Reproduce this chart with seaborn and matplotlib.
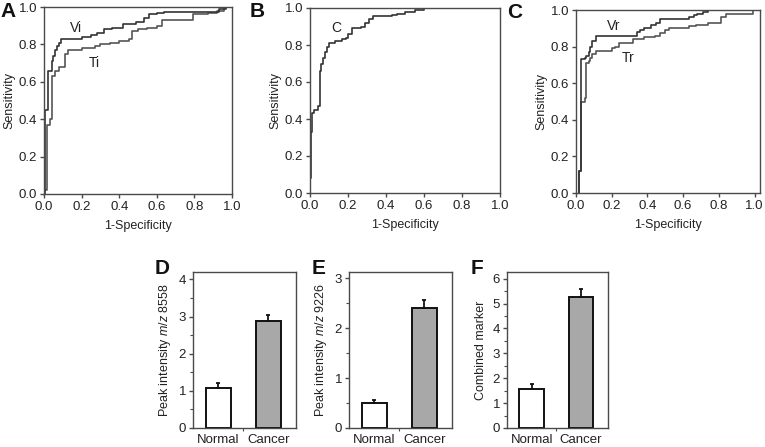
import matplotlib
matplotlib.use("Agg")
import matplotlib.pyplot as plt
from matplotlib.ticker import MultipleLocator, FormatStrFormatter, AutoMinorLocator
import numpy as np
import pandas as pd
import seaborn as sns

# ---------------- data ----------------
# Panel A ROC curves (1-specificity, sensitivity) step corners
vi_fpr = [0.005, 0.005, 0.02, 0.04, 0.05, 0.06, 0.07, 0.08, 0.09, 0.2, 0.25, 0.28, 0.32, 0.36,
          0.42, 0.49, 0.53, 0.56, 0.6, 0.64, 0.93, 0.97, 1.0]
vi_tpr = [0.0, 0.45, 0.66, 0.71, 0.74, 0.77, 0.79, 0.81, 0.83, 0.84, 0.85, 0.86, 0.88, 0.89,
          0.91, 0.92, 0.94, 0.96, 0.97, 0.975, 0.99, 1.0, 1.0]
ti_fpr = [0.005, 0.015, 0.03, 0.04, 0.06, 0.08, 0.11, 0.13, 0.2, 0.27, 0.3, 0.35, 0.4, 0.45,
          0.47, 0.5, 0.55, 0.6, 0.63, 0.79, 0.87, 0.92, 0.96, 1.0]
ti_tpr = [0.02, 0.37, 0.40, 0.63, 0.66, 0.68, 0.75, 0.77, 0.78, 0.79, 0.80, 0.81, 0.82, 0.83,
          0.87, 0.88, 0.89, 0.90, 0.93, 0.96, 0.97, 0.98, 1.0, 1.0]
# Panel B ROC curve
c_fpr = [0.0, 0.005, 0.01, 0.02, 0.04, 0.05, 0.06, 0.07, 0.08, 0.09, 0.1, 0.13, 0.17, 0.19,
         0.2, 0.22, 0.27, 0.29, 0.31, 0.33, 0.43, 0.46, 0.5, 0.55, 0.6, 0.65]
c_tpr = [0.08, 0.33, 0.43, 0.45, 0.47, 0.66, 0.70, 0.73, 0.76, 0.79, 0.81, 0.82, 0.83, 0.84,
         0.86, 0.89, 0.90, 0.92, 0.94, 0.955, 0.96, 0.97, 0.98, 0.99, 1.0, 1.0]
# Panel C ROC curves
vr_fpr = [0.017, 0.017, 0.026, 0.048, 0.055, 0.07, 0.08, 0.09, 0.11, 0.34, 0.36, 0.38, 0.42,
          0.45, 0.47, 0.63, 0.66, 0.68, 0.71, 0.74]
vr_tpr = [0.0, 0.12, 0.73, 0.74, 0.75, 0.77, 0.80, 0.83, 0.86, 0.88, 0.89, 0.90, 0.92,
          0.93, 0.95, 0.96, 0.97, 0.98, 0.99, 1.0]
tr_fpr = [0.017, 0.017, 0.026, 0.048, 0.054, 0.07, 0.08, 0.09, 0.11, 0.2, 0.22, 0.24, 0.32,
          0.38, 0.44, 0.47, 0.5, 0.52, 0.63, 0.67, 0.74, 0.81, 0.84, 0.99, 1.0]
tr_tpr = [0.0, 0.12, 0.50, 0.52, 0.71, 0.72, 0.74, 0.76, 0.775, 0.79, 0.80, 0.82, 0.84,
          0.85, 0.86, 0.875, 0.89, 0.90, 0.91, 0.92, 0.93, 0.96, 0.976, 1.0, 1.0]

# Bar panels
groups = ["Normal", "Cancer"]
d_means = [1.07, 2.88]
d_errs = [0.13, 0.17]
e_means = [0.51, 2.40]
e_errs = [0.05, 0.16]
f_means = [1.57, 5.28]
f_errs = [0.18, 0.30]
roc_ticks = [0.0, 0.2, 0.4, 0.6, 0.8, 1.0]

# ---------------- style ----------------
sns.set_style("ticks")
plt.rcParams["font.family"] = ["Liberation Sans", "DejaVu Sans"]
plt.rcParams["mathtext.fontset"] = "custom"
plt.rcParams["mathtext.rm"] = "Liberation Sans"
plt.rcParams["mathtext.it"] = "Liberation Sans:italic"

W, H = 765, 447
fig = plt.figure(figsize=(W / 100, H / 100), dpi=100)


def px_axes(l, t, r, b):
    return fig.add_axes([l / W, 1 - b / H, (r - l) / W, (b - t) / H])


SPINE = "#4a4a4a"
TXT = "#222222"


def style_axes(ax, size=9.5):
    for s in ax.spines.values():
        s.set_visible(True)
        s.set_color(SPINE)
        s.set_linewidth(1.0)
    ax.tick_params(direction="out", length=3, width=1, color=SPINE,
                   labelsize=size, pad=2, labelcolor=TXT)


def roc_panel(ax, curves, labels, xmax=1.0):
    for fpr, tpr, col in curves:
        df = pd.DataFrame({"fpr": fpr, "tpr": tpr})
        sns.lineplot(data=df, x="fpr", y="tpr", ax=ax, estimator=None, sort=False,
                     drawstyle="steps-post", color=col, linewidth=1.2)
    ax.set_xlim(0, xmax)
    ax.set_ylim(0, 1)
    ax.set_xticks(roc_ticks)
    ax.set_yticks(roc_ticks)
    ax.xaxis.set_major_formatter(FormatStrFormatter("%.1f"))
    ax.yaxis.set_major_formatter(FormatStrFormatter("%.1f"))
    ax.set_xlabel("1-Specificity", fontsize=9, labelpad=5, color=TXT)
    ax.set_ylabel("Sensitivity", fontsize=9, labelpad=2, color=TXT)
    style_axes(ax, size=9.5)
    for txt, x, y in labels:
        ax.text(x, y, txt, fontsize=10, ha="center", va="center", color=TXT)


axA = px_axes(44, 7, 232, 194)
roc_panel(axA, [(ti_fpr, ti_tpr, "#555555"), (vi_fpr, vi_tpr, "#333333")],
          [("Vi", 0.17, 0.89), ("Ti", 0.27, 0.70)])
axB = px_axes(310, 8, 500, 193)
roc_panel(axB, [(c_fpr, c_tpr, "#333333")], [("C", 0.14, 0.89)])
axC = px_axes(576, 10, 760, 193)
roc_panel(axC, [(tr_fpr, tr_tpr, "#555555"), (vr_fpr, vr_tpr, "#333333")],
          [("Vr", 0.21, 0.91), ("Tr", 0.29, 0.74)], xmax=1.03)


def bar_panel(ax, means, errs, ymax, ylabel):
    df = pd.DataFrame({"group": groups, "value": means})
    sns.barplot(data=df, x="group", y="value", hue="group", order=groups,
                palette=["white", "#a8a8a8"], edgecolor="#111111", linewidth=1.4,
                width=0.5, ax=ax, legend=False, errorbar=None)
    ax.errorbar([0, 1], means, yerr=[[0, 0], errs], fmt="none", ecolor="#111111",
                elinewidth=1.3, capsize=1.6, capthick=1.3)
    ax.set_xlim(-0.5, 1.55)
    ax.set_ylim(0, ymax)
    ax.yaxis.set_major_locator(MultipleLocator(1))
    ax.yaxis.set_minor_locator(AutoMinorLocator(2))
    ax.set_xticks([0, 1])
    ax.set_xticks([0.5], minor=True)
    ax.set_xlabel("")
    ax.set_ylabel(ylabel, fontsize=9, labelpad=4, color=TXT)
    style_axes(ax, size=9.5)
    ax.tick_params(axis="x", which="major", length=0, labelsize=9.5, pad=4)
    ax.tick_params(axis="y", which="minor", length=2, width=0.8, color=SPINE)
    ax.tick_params(axis="x", which="minor", length=2.5, width=0.8, color=SPINE)


axD = px_axes(193, 272, 296, 428)
bar_panel(axD, d_means, d_errs, 4.2, r"Peak intensity $\it{m/z}$ 8558")
axE = px_axes(349, 272, 452, 428)
bar_panel(axE, e_means, e_errs, 3.13, r"Peak intensity $\it{m/z}$ 9226")
axF = px_axes(507, 272, 608, 428)
bar_panel(axF, f_means, f_errs, 6.27, "Combined marker")

# panel letters
for letter, x, y in [("A", 0, 2), ("B", 250, 2), ("C", 507, 3),
                     ("D", 155, 259), ("E", 312, 259), ("F", 471, 259)]:
    fig.text(x / W, 1 - y / H, letter, fontsize=15, fontweight="bold",
             ha="left", va="top", color="#111111")

fig.savefig("out.png", dpi=100)
